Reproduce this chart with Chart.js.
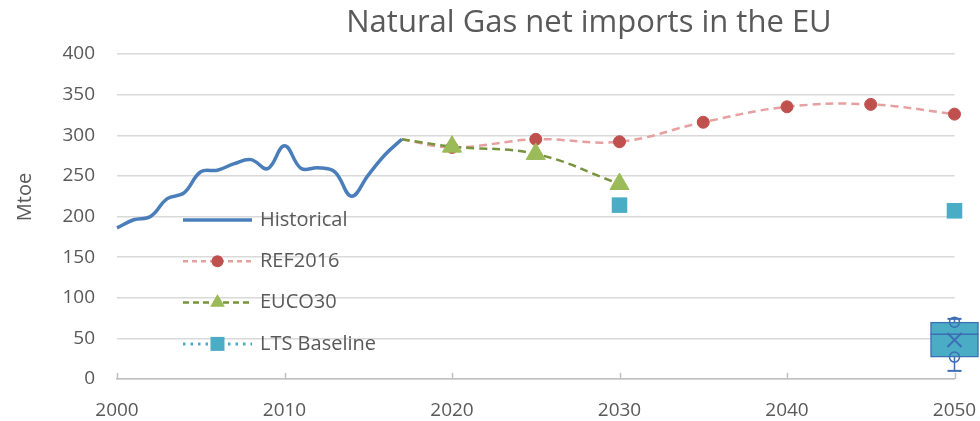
<!DOCTYPE html>
<html>
<head>
<meta charset="utf-8">
<script src="https://cdn.jsdelivr.net/npm/chart.js@4.4.1/dist/chart.umd.min.js"></script>
<style>
    html, body { margin: 0; padding: 0; background: #fff; }
    #wrap { width: 980px; height: 421px; position: relative; }
</style>
</head>
<body>
<div id="wrap"><canvas id="gasChart"></canvas></div>
<script>
// Values (Mtoe)
const histYears = [2000, 2001, 2002, 2003, 2004, 2005, 2006, 2007, 2008, 2009, 2010, 2011, 2012, 2013, 2014, 2015, 2016, 2017];
const histValues = [186, 196, 200, 222, 229, 255, 257, 265, 270, 259, 287, 259, 260, 255, 225, 251, 276, 295];

const refYears = [2017, 2020, 2025, 2030, 2035, 2040, 2045, 2050];
const refValues = [295, 285, 295, 292, 316, 335, 338, 326];

const eucoYears = [2017, 2020, 2025, 2030];
const eucoValues = [295, 286, 277, 240];

const ltsYears = [2030, 2050];
const ltsValues = [214, 207];

// Box & whisker at 2050
const boxYear = 2050;
const boxWhiskers = [10, 74];
const boxQuartiles = [27, 70];
const boxMedian = 55;
const boxMean = 48;
const boxInnerPoints = [27, 70];

const xTicks = [2000, 2010, 2020, 2030, 2040, 2050];
const yTicks = [0, 50, 100, 150, 200, 250, 300, 350, 400];

const legendLabels = ['Historical', 'REF2016', 'EUCO30', 'LTS Baseline'];

const chartTitle = 'Natural Gas net imports in the EU';
const yAxisTitle = 'Mtoe';

const textColor = '#595959';
const fontFamily = '"Open Sans", "Noto Sans", sans-serif';
const boxBlue = '#3d6fb5';

const toXY = (xs, ys) => xs.map((x, i) => ({ x: x, y: ys[i] }));

function drawMarker(ctx, style, x, y, r) {
    ctx.beginPath();
    if (style === 'circle') {
        ctx.arc(x, y, r, 0, Math.PI * 2);
    } else if (style === 'triangle') {
        ctx.moveTo(x, y - r);
        ctx.lineTo(x + r * 0.866, y + r * 0.5);
        ctx.lineTo(x - r * 0.866, y + r * 0.5);
        ctx.closePath();
    } else if (style === 'rect') {
        ctx.rect(x - r, y - r, r * 2, r * 2);
    }
    ctx.fill();
}

// Legend inside the plot, title, y title and upward x tick marks
const decorPlugin = {
    id: 'decor',
    afterDraw(chart) {
        const ctx = chart.ctx;
        const area = chart.chartArea;
        const xScale = chart.scales.x;

        ctx.save();

        // x tick marks pointing up
        ctx.strokeStyle = '#bfbfbf';
        ctx.lineWidth = 1.5;
        xTicks.forEach(v => {
            const px = Math.round(xScale.getPixelForValue(v)) + 0.5;
            ctx.beginPath();
            ctx.moveTo(px, area.bottom);
            ctx.lineTo(px, area.bottom - 6);
            ctx.stroke();
        });

        // title
        ctx.fillStyle = textColor;
        ctx.font = '31px ' + fontFamily;
        ctx.textAlign = 'center';
        ctx.textBaseline = 'middle';
        ctx.fillText(chartTitle, 589, 23);

        // y axis title
        ctx.save();
        ctx.translate(25, 197);
        ctx.rotate(-Math.PI / 2);
        ctx.font = '20px ' + fontFamily;
        ctx.fillText(yAxisTitle, 0, 0);
        ctx.restore();

        // legend
        const legendStyles = [
            { marker: null, size: 0 },
            { marker: 'circle', size: 6 },
            { marker: 'triangle', size: 8.5 },
            { marker: 'rect', size: 7 }
        ];
        const x0 = area.left + 66;
        const x1 = area.left + 135;
        const xm = (x0 + x1) / 2;
        legendLabels.forEach((label, i) => {
            const ds = chart.data.datasets[i];
            const y = 220 + i * 41.3;
            ctx.strokeStyle = ds.legendLineColor || ds.borderColor;
            ctx.lineWidth = ds.legendLineWidth || ds.borderWidth;
            ctx.setLineDash(ds.legendDash || []);
            ctx.beginPath();
            ctx.moveTo(x0, y);
            ctx.lineTo(x1, y);
            ctx.stroke();
            ctx.setLineDash([]);
            const st = legendStyles[i];
            if (st.marker) {
                ctx.fillStyle = ds.pointBackgroundColor;
                drawMarker(ctx, st.marker, xm, y, st.size);
            }
            ctx.fillStyle = textColor;
            ctx.font = '20px ' + fontFamily;
            ctx.textAlign = 'left';
            ctx.textBaseline = 'middle';
            ctx.fillText(label, x1 + 8, y);
        });

        ctx.restore();
    }
};

const ctx = document.getElementById('gasChart').getContext('2d');

new Chart(ctx, {
    type: 'line',
    data: {
        datasets: [
            {
                label: legendLabels[0],
                data: toXY(histYears, histValues),
                borderColor: '#4a7ebb',
                borderWidth: 3.5,
                pointRadius: 0,
                tension: 0.4,
                fill: false,
                clip: false,
                order: 1
            },
            {
                label: legendLabels[1],
                data: toXY(refYears, refValues),
                borderColor: '#e6a09f',
                borderWidth: 2.5,
                borderDash: [8, 5],
                legendDash: [5, 4],
                pointStyle: 'circle',
                pointRadius: refYears.map((y, i) => i === 0 ? 0 : 6),
                pointBackgroundColor: '#c0504d',
                pointBorderColor: '#c0504d',
                pointBorderWidth: 1,
                tension: 0.4,
                fill: false,
                clip: false,
                order: 2
            },
            {
                label: legendLabels[2],
                data: toXY(eucoYears, eucoValues),
                borderColor: '#77933c',
                borderWidth: 2.5,
                borderDash: [8, 5],
                legendDash: [6, 4],
                pointStyle: 'triangle',
                pointRadius: eucoYears.map((y, i) => i === 0 ? 0 : 11),
                pointBackgroundColor: '#9bbb59',
                pointBorderColor: '#9bbb59',
                pointBorderWidth: 1,
                tension: 0.4,
                fill: false,
                clip: false,
                order: 1
            },
            {
                label: legendLabels[3],
                data: toXY(ltsYears, ltsValues),
                showLine: false,
                borderColor: '#4bacc6',
                borderWidth: 3,
                legendDash: [2.5, 5],
                pointStyle: 'rect',
                pointRadius: 11,
                pointBackgroundColor: '#4bacc6',
                pointBorderColor: '#4bacc6',
                pointBorderWidth: 0,
                clip: false,
                order: 1
            },
            // box plot pieces
            {
                label: 'whiskers',
                data: toXY([boxYear, boxYear], boxWhiskers),
                borderColor: boxBlue,
                borderWidth: 1.5,
                pointStyle: 'line',
                pointRadius: 7,
                pointBorderColor: boxBlue,
                pointBorderWidth: 2,
                clip: false,
                order: 6
            },
            {
                type: 'bar',
                label: 'box',
                data: [{ x: boxYear, y: boxQuartiles }],
                backgroundColor: '#4bacc6',
                borderColor: boxBlue,
                borderWidth: 1.5,
                borderSkipped: false,
                barThickness: 48,
                grouped: false,
                clip: false,
                order: 5
            },
            {
                label: 'median',
                data: [{ x: boxYear, y: boxMedian }],
                showLine: false,
                pointStyle: 'line',
                pointRadius: 24,
                pointBorderColor: boxBlue,
                pointBorderWidth: 1.5,
                clip: false,
                order: 0
            },
            {
                label: 'mean',
                data: [{ x: boxYear, y: boxMean }],
                showLine: false,
                pointStyle: 'crossRot',
                pointRadius: 10,
                pointBorderColor: boxBlue,
                pointBorderWidth: 2,
                clip: false,
                order: 0
            },
            {
                label: 'inner points',
                data: toXY([boxYear, boxYear], boxInnerPoints),
                showLine: false,
                pointStyle: 'circle',
                pointRadius: 5,
                pointBackgroundColor: 'rgba(0,0,0,0)',
                pointBorderColor: boxBlue,
                pointBorderWidth: 1.5,
                clip: false,
                order: 0
            }
        ]
    },
    options: {
        responsive: true,
        maintainAspectRatio: false,
        animation: false,
        layout: {
            padding: { top: 54, right: 25, bottom: 0, left: 0 }
        },
        plugins: {
            legend: { display: false },
            title: { display: false },
            tooltip: { enabled: false }
        },
        scales: {
            x: {
                type: 'linear',
                min: xTicks[0],
                max: xTicks[xTicks.length - 1],
                offset: false,
                afterBuildTicks: scale => {
                    scale.ticks = xTicks.map(v => ({ value: v }));
                },
                afterFit: scale => {
                    scale.height = 42;
                    scale.paddingLeft = 0;
                    scale.paddingRight = 0;
                },
                grid: { display: true, drawOnChartArea: false, drawTicks: false },
                border: { display: true, color: '#bfbfbf', width: 1.5 },
                ticks: {
                    color: textColor,
                    padding: 20,
                    font: { family: fontFamily, size: 19 },
                    maxRotation: 0,
                    callback: v => String(v)
                }
            },
            y: {
                min: yTicks[0],
                max: yTicks[yTicks.length - 1],
                afterBuildTicks: scale => {
                    scale.ticks = yTicks.map(v => ({ value: v }));
                },
                afterFit: scale => { scale.width = 117; },
                grid: { color: '#d9d9d9', lineWidth: 1.5, drawTicks: false },
                border: { display: false },
                ticks: {
                    color: textColor,
                    padding: 22,
                    font: { family: fontFamily, size: 19 },
                    callback: v => String(v)
                }
            }
        }
    },
    plugins: [decorPlugin]
});
</script>
</body>
</html>
